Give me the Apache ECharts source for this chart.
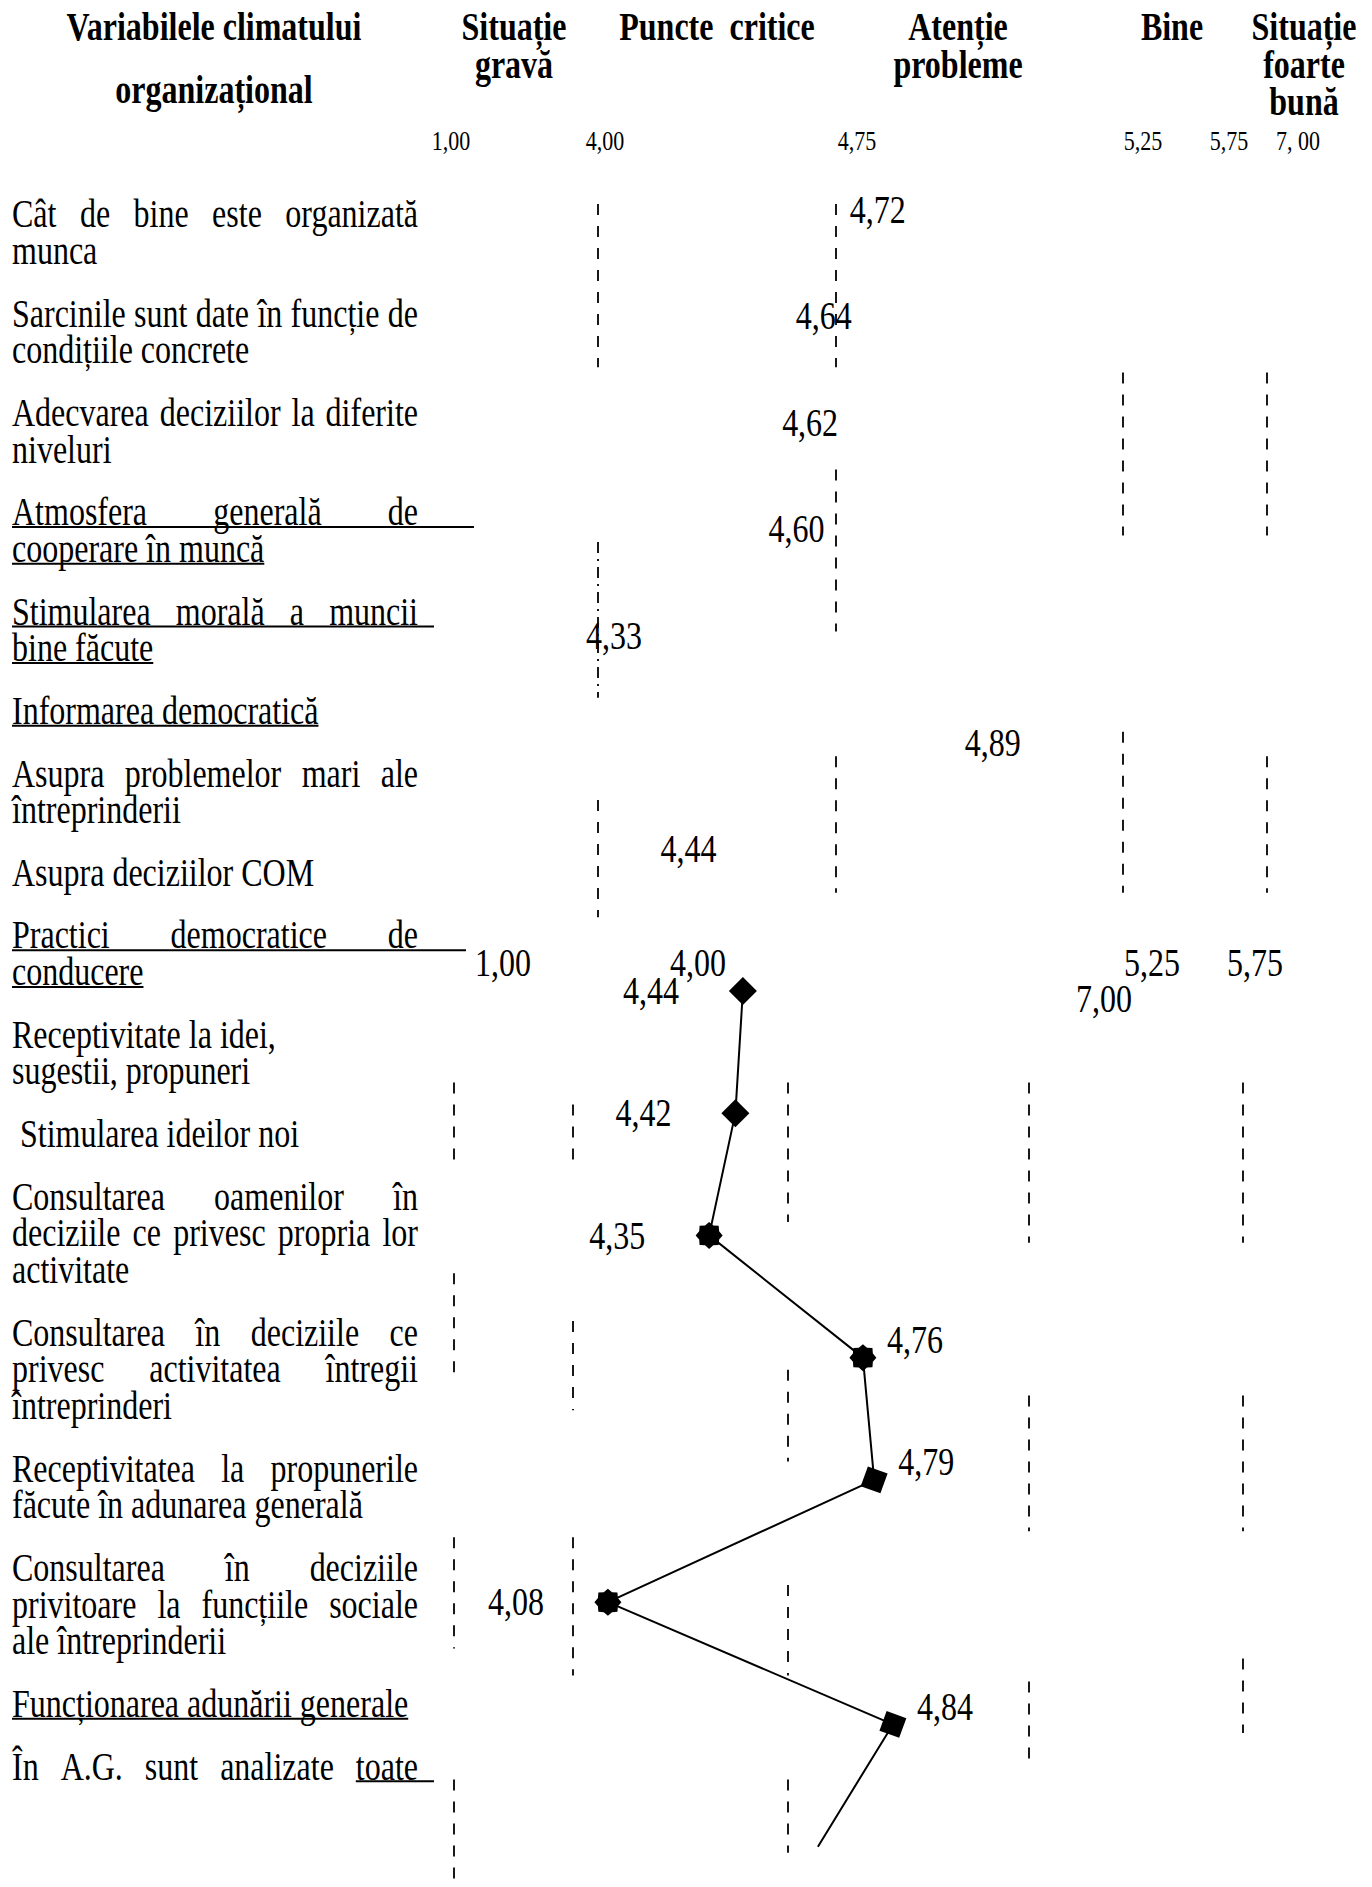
<!DOCTYPE html>
<html><head><meta charset="utf-8">
<script src="https://cdn.jsdelivr.net/npm/echarts@6/dist/echarts.min.js"></script>
<style>html,body{margin:0;padding:0;background:#fff}#c{width:1372px;height:1887px}</style>
</head><body><div id="c"></div>
<script>
// ================= DATA =================
const topCategories = [
  'Cât de bine este organizată munca',
  'Sarcinile sunt date în funcție de condițiile concrete',
  'Adecvarea deciziilor la diferite niveluri',
  'Atmosfera generală de cooperare în muncă',
  'Stimularea morală a muncii bine făcute',
  'Informarea democratică – asupra problemelor mari ale întreprinderii',
  'Asupra deciziilor COM'
];
const topValues = [4.72, 4.64, 4.62, 4.60, 4.33, 4.89, 4.44];

const bottomCategories = [
  'Receptivitate la idei, sugestii, propuneri',
  'Stimularea ideilor noi',
  'Consultarea oamenilor în deciziile ce privesc propria lor activitate',
  'Consultarea în deciziile ce privesc activitatea întregii întreprinderi',
  'Receptivitatea la propunerile făcute în adunarea generală',
  'Consultarea în deciziile privitoare la funcțiile sociale ale întreprinderii',
  'În A.G. sunt analizate toate …',
  '(continuare în afara paginii)'
];
// last value: the line leaves the page, estimated from its direction
const bottomValues = [4.44, 4.42, 4.35, 4.76, 4.79, 4.08, 4.84, 4.64];

const zoneTitles = [
  ['Situație', 'gravă'],
  ['Puncte\u00a0 critice'],
  ['Atenție', 'probleme'],
  ['Bine'],
  ['Situație', 'foarte', 'bună']
];
const scaleTickLabels = ['1,00', '4,00', '4,75', '5,25', '5,75', '7, 00'];
const lowerScaleLabels = ['1,00', '4,00', '5,25', '5,75', '7,00'];

// dashed zone separators: [axis value, from row, to row]
const topSeparators = [
  [4.306, -0.05, 1.48], [4.658, -0.05, 1.48],
  [5.083, 1.53, 3.06], [5.296, 1.53, 3.06],
  [4.658, 2.44, 3.96], [4.306, 3.12, 4.58],
  [5.083, 4.90, 6.41], [4.658, 5.13, 6.41], [5.296, 5.13, 6.41],
  [4.306, 5.54, 6.64]
];
const bottomSeparators = [
  [3.670, 0.75, 1.46], [3.987, 0.93, 1.46], [4.560, 0.75, 1.89], [5.203, 0.75, 2.06], [5.774, 0.75, 2.06],
  [3.670, 2.31, 3.21], [3.987, 2.70, 3.43], [4.560, 3.10, 3.85], [5.203, 3.31, 4.42], [5.774, 3.31, 4.42],
  [3.670, 4.47, 5.38], [3.987, 4.47, 5.60], [4.560, 4.86, 5.60], [5.203, 5.65, 6.29], [5.774, 5.46, 6.07],
  [3.670, 6.45, 7.33], [4.560, 6.45, 7.05]
];

// left column text (category names as printed)
const leftParagraphs = [
  { text: 'Cât de bine este organizată\nmunca' },
  { text: 'Sarcinile sunt date în funcție de\ncondițiile concrete' },
  { text: 'Adecvarea deciziilor la diferite\nniveluri' },
  { text: 'Atmosfera generală de\ncooperare în muncă', underline: true, tail: [7, 0] },
  { text: 'Stimularea morală a muncii\nbine făcute', underline: true, tail: [2, 0] },
  { text: 'Informarea democratică', underline: true },
  { text: 'Asupra problemelor mari ale\nîntreprinderii' },
  { text: 'Asupra deciziilor COM' },
  { text: 'Practici democratice de\nconducere', underline: true, tail: [6, 0] },
  { text: 'Receptivitate la idei,\nsugestii, propuneri', ragged: true },
  { text: ' Stimularea ideilor noi' },
  { text: 'Consultarea oamenilor în\ndeciziile ce privesc propria lor\nactivitate' },
  { text: 'Consultarea în deciziile ce\nprivesc activitatea întregii\nîntreprinderi' },
  { text: 'Receptivitatea la propunerile\nfăcute în adunarea generală' },
  { text: 'Consultarea în deciziile\nprivitoare la funcțiile sociale\nale întreprinderii' },
  { text: 'Funcționarea adunării generale', underline: true },
  { text: 'În A.G. sunt analizate toate', underlineLast: true, tail: [2], justifyLast: true }
];

// ================= STYLE / LAYOUT =================
const FONT = 'Liberation Serif, Times New Roman, serif';
const STRETCH = 1.25;            // the printed page is stretched vertically
const bottomSymbols = ['diamond', 'diamond', 'star', 'star', 'rect', 'star', 'rect', 'none'];

const ctx = document.createElement('canvas').getContext('2d');
function tw(s, size, bold) { ctx.font = (bold ? 'bold ' : '') + size + 'px ' + FONT; return ctx.measureText(s).width; }
const fmt = v => v.toFixed(2).replace('.', ',');

function textEl(s, x, y, size, bold, align) {
  align = align || 'left';
  return {
    type: 'text', x: x, y: y, scaleY: STRETCH, silent: true,
    style: { text: s, font: (bold ? 'bold ' : '') + size + 'px ' + FONT, fill: '#000',
      textAlign: align, textVerticalAlign: 'middle', align: align, verticalAlign: 'middle' }
  };
}
const graphics = [];
function addText(s, x, y, size, bold, align) { graphics.push(textEl(s, x, y, size, bold, align)); }
function addLine(x1, y1, x2, y2, w) {
  graphics.push({ type: 'line', silent: true, shape: { x1: x1, y1: y1, x2: x2, y2: y2 },
    style: { stroke: '#000', lineWidth: w || 2 } });
}

// header
addText('Variabilele climatului', 214, 27, 32, true, 'center');
addText('organizațional', 214, 90, 32, true, 'center');
const zoneCenters = [514, 717, 958, 1172, 1304];
zoneTitles.forEach((lines, i) => lines.forEach((t, j) => addText(t, zoneCenters[i], 27 + j * 37.3, 32, true, 'center')));
const tickCenters = [451, 605, 857, 1143, 1229, 1298];
scaleTickLabels.forEach((t, i) => addText(t, tickCenters[i], 141, 22, false, 'center'));
// lower scale row
const lowerPos = [[503, 963], [698, 963], [1152, 963], [1255, 963], [1104, 999]];
lowerScaleLabels.forEach((t, i) => addText(t, lowerPos[i][0], lowerPos[i][1], 32, false, 'center'));

// left column, justified like the original
(function () {
  const LX = 12, RX = 418, SZ = 32, LINE_H = 36.7, PARA_H = 62.6;
  const spW = tw(' ', SZ);
  let y = 214.2;
  leftParagraphs.forEach((p, pi) => {
    const lines = p.text.split('\n');
    lines.forEach((ln, li) => {
      if (pi > 0 || li > 0) y += (li === 0 ? PARA_H : LINE_H);
      const lead = ln.match(/^ */)[0].length;
      const x0 = LX + lead * spW;
      const words = ln.trim().split(/ +/);
      const isLast = li === lines.length - 1;
      const justify = !p.ragged && (!isLast || p.justifyLast) && words.length > 1;
      let endX, lastWordX;
      if (justify) {
        const widths = words.map(w => tw(w, SZ));
        const total = widths.reduce((a, b) => a + b, 0);
        const gap = (RX - x0 - total) / (words.length - 1);
        let x = x0;
        words.forEach((w, k) => { addText(w, x, y, SZ); lastWordX = x; x += widths[k] + gap; });
        endX = RX;
      } else {
        const s = words.join(' ');
        addText(s, x0, y, SZ);
        endX = x0 + tw(s, SZ);
        lastWordX = endX - tw(words[words.length - 1], SZ);
      }
      const tail = (p.tail && p.tail[li]) ? p.tail[li] * spW : 0;
      if (p.underline) addLine(x0, y + 15, endX + tail, y + 15, 2);
      if (p.underlineLast) addLine(lastWordX, y + 15, endX + tail, y + 15, 2);
    });
  });
})();

function starPath(n, inner) {
  let d = '';
  for (let k = 0; k < 2 * n; k++) {
    const a = Math.PI * k / n - Math.PI / 2, r = k % 2 === 0 ? 1 : inner;
    d += (k === 0 ? 'M' : 'L') + (r * Math.cos(a)).toFixed(3) + ' ' + (r * Math.sin(a)).toFixed(3) + ' ';
  }
  return 'path://' + d + 'Z';
}
const STAR = starPath(8, 0.8);
const symbolStyle = {
  diamond: { symbol: 'diamond', symbolSize: [28, 28], symbolRotate: 0 },
  star: { symbol: STAR, symbolSize: [27, 27], symbolRotate: 0 },
  rect: { symbol: 'rect', symbolSize: [21, 21], symbolRotate: -20 },
  none: { symbol: 'none', symbolSize: 0, symbolRotate: 0 }
};

// value-label renderers (labels stretched like the page)
function topLabel(params, api) {
  const p = api.coord([api.value(0), api.value(1)]);
  return textEl(fmt(api.value(0)), p[0], p[1], 32, false, 'center');
}
function bottomLabel(params, api) {
  const i = params.dataIndex;
  if (bottomSymbols[i] === 'none') return null;
  const v = api.value(0);
  const p = api.coord([v, api.value(1)]);
  const right = v >= 4.5;
  return textEl(fmt(v), p[0] + (right ? 52 : -92), p[1] + (right ? -18 : 0), 32, false, 'center');
}

const chart = echarts.init(document.getElementById('c'), null, { renderer: 'svg', width: 1372, height: 1887 });
chart.setOption({
  animation: false,
  backgroundColor: '#fff',
  grid: [
    { left: 391, top: 134.8, width: 946.4, height: 820.8 },
    { left: 390.4, top: 807.5, width: 937.5, height: 1079.5 }
  ],
  xAxis: [
    { gridIndex: 0, type: 'value', min: 4.0, max: 5.4, show: false },
    { gridIndex: 1, type: 'value', min: 3.5, max: 6.0, show: false }
  ],
  yAxis: [
    { gridIndex: 0, type: 'value', min: -0.7, max: 7.0, inverse: true, show: false },
    { gridIndex: 1, type: 'value', min: -1.5, max: 7.33, inverse: true, show: false }
  ],
  graphic: graphics,
  series: [
    {
      name: 'Climat', type: 'custom', xAxisIndex: 0, yAxisIndex: 0, silent: true, clip: false,
      data: topValues.map((v, i) => ({ name: topCategories[i], value: [v, i] })),
      renderItem: topLabel
    },
    {
      type: 'lines', coordinateSystem: 'cartesian2d', xAxisIndex: 0, yAxisIndex: 0, silent: true,
      lineStyle: { color: '#000', width: 1.8, type: [11, 11], opacity: 1, curveness: 0 },
      data: topSeparators.map((s, i) => ({
        coords: [[s[0], s[1]], [s[0], s[2]]],
        lineStyle: i === 5 ? { type: [11, 6, 2, 6] } : undefined
      }))
    },
    {
      type: 'lines', coordinateSystem: 'cartesian2d', xAxisIndex: 1, yAxisIndex: 1, silent: true,
      lineStyle: { color: '#000', width: 1.8, type: [11, 11], opacity: 1, curveness: 0 },
      data: bottomSeparators.map(s => ({ coords: [[s[0], s[1]], [s[0], s[2]]] }))
    },
    {
      name: 'Practici', type: 'line', xAxisIndex: 1, yAxisIndex: 1, silent: true,
      showAllSymbol: true, z: 5,
      lineStyle: { color: '#000', width: 2 },
      itemStyle: { color: '#000', borderWidth: 0 },
      label: { show: false },
      data: bottomValues.map((v, i) => Object.assign({ name: bottomCategories[i], value: [v, i] }, symbolStyle[bottomSymbols[i]]))
    },
    {
      name: 'Practici (valori)', type: 'custom', xAxisIndex: 1, yAxisIndex: 1, silent: true, clip: false, z: 6,
      data: bottomValues.map((v, i) => ({ name: bottomCategories[i], value: [v, i] })),
      renderItem: bottomLabel
    }
  ]
});
</script>
</body></html>
